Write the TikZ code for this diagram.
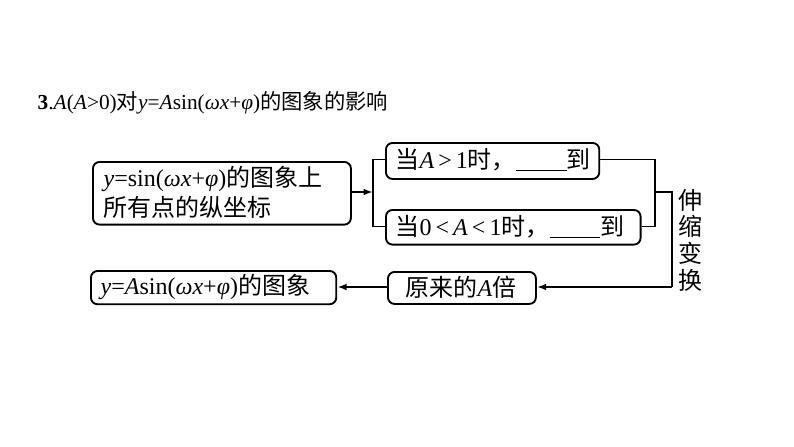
\documentclass[tikz,border=0pt]{standalone}
\usepackage{fontspec}
\setmainfont{Liberation Serif}
\newfontfamily\cjk{Noto Sans CJK SC}
\usetikzlibrary{arrows.meta}
\tikzset{
  bx/.style={draw,line width=1.4pt,rounded corners=5pt,inner sep=0pt,anchor=north west},
  ln/.style={line width=1.4pt},
  ar/.style={line width=1.4pt,-{Latex[length=7pt,width=5pt]}},
  tx/.style={font=\fontsize{18}{22}\selectfont}
}
\newcommand{\blk}{\underline{\hspace{38pt}}}
\begin{document}
\begin{tikzpicture}[x=0.75pt,y=-0.75pt]
\useasboundingbox[fill=white] (0,0) rectangle (794,447);
\node[anchor=west,font=\fontsize{16}{19}\selectfont] (title) at (33,103) {\textbf{3}.\textit{A}(\textit{A}{\textgreater}0){\cjk 对}\textit{y}=\textit{A}sin(\textit{ω}\textit{x}+\textit{φ}){\cjk 的图象的影响}};
\node[bx,minimum width=193.5pt,minimum height=47pt] (b1) at (92,161) {};
\node[tx,anchor=north west,align=left] (t1) at (99,162) {\textit{y}=sin(\textit{ω}\textit{x}+\textit{φ}){\cjk 的图象上}\\{\cjk 所有点的纵坐标}};
\node[bx,minimum width=160pt,minimum height=27pt] (b2) at (385,142) {};
\node[tx,anchor=west] (t2) at (391,159.5) {{\cjk 当}\textit{A}\,{\textgreater}\,1{\cjk 时，}\blk{\cjk 到}};
\node[bx,minimum width=191pt,minimum height=26pt] (b3) at (385,209) {};
\node[tx,anchor=west] (t3) at (391,226.5) {{\cjk 当}0\,{\textless}\,\textit{A}\,{\textless}\,1{\cjk 时，}\blk{\cjk 到}};
\node[bx,minimum width=111pt,minimum height=24pt] (b4) at (387,271) {};
\node[tx] (t4) at (461,287) {{\cjk 原来的}\textit{A}{\cjk 倍}};
\node[bx,minimum width=184pt,minimum height=25pt] (b5) at (90,270) {};
\node[tx,anchor=west] (t5) at (96,286.5) {\textit{y}=\textit{A}sin(\textit{ω}\textit{x}+\textit{φ}){\cjk 的图象}};
\node[align=center,font=\fontsize{18}{20}\selectfont\cjk] (v) at (690,240) {伸\\缩\\变\\换};
\coordinate (L) at (373,192);
\draw[ar] (b1.east |- L) -- (L);
\draw[ln] (385,159.5) -| (373,226.5) -- (385,226.5);
\draw[ln] (b2.east |- 0,159.5) -| (655,226.5) -- (b3.east |- 0,226.5);
\draw[ln] (655,192) -- (672,192) -- (672,287);
\draw[ar] (672,287) -- (b4.east |- 0,287);
\draw[ar] (b4.west |- 0,287) -- (b5.east |- 0,287);
\end{tikzpicture}
\end{document}
